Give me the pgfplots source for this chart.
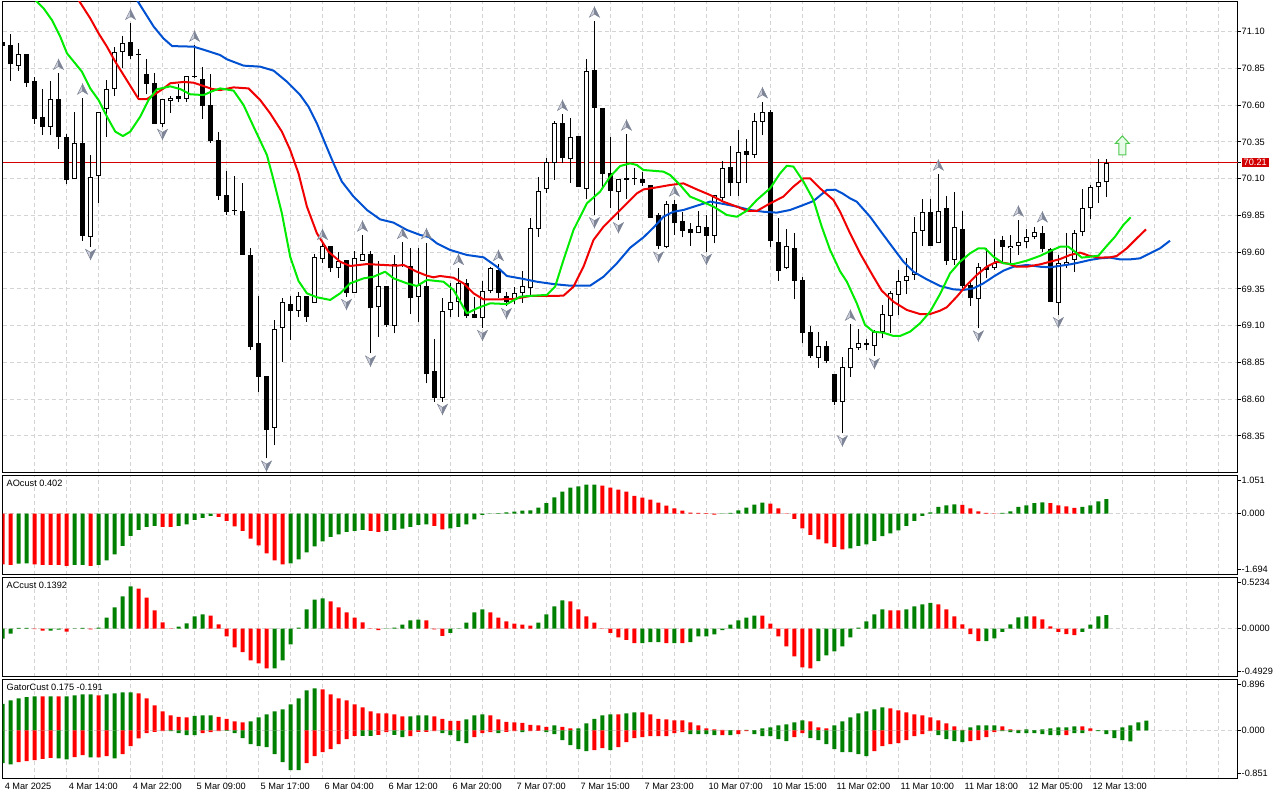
\documentclass[border=0pt]{standalone}
\usepackage{pgfplots}
\usepackage{pgfplotstable}
\pgfplotsset{compat=1.18}
\usepackage{fontspec}
\setmainfont{Liberation Sans}
\newcommand{\mtfont}{\fontsize{9.2}{11}\selectfont}
\definecolor{jaw}{RGB}{0,80,210}
\definecolor{teeth}{RGB}{240,0,0}
\definecolor{lips}{RGB}{0,235,0}
\definecolor{hgreen}{RGB}{0,128,0}
\definecolor{hred}{RGB}{255,0,0}
\definecolor{pricered}{RGB}{210,0,0}
\definecolor{gridc}{RGB}{212,212,212}
\definecolor{buyg}{RGB}{80,200,80}
\definecolor{buyf}{RGB}{232,250,232}
\definecolor{frl}{RGB}{205,208,218}
\definecolor{frd}{RGB}{125,132,150}

\pgfdeclareplotmark{fup}{%
  \pgfsetlinewidth{0.5pt}\pgfsetstrokecolor{frd}%
  \pgfsetfillcolor{frl}%
  \pgfpathmoveto{\pgfqpoint{0pt}{5pt}}\pgfpathlineto{\pgfqpoint{-5pt}{-5pt}}%
  \pgfpathlineto{\pgfqpoint{0pt}{-2pt}}\pgfpathclose\pgfusepath{fill,stroke}%
  \pgfsetfillcolor{frd}%
  \pgfpathmoveto{\pgfqpoint{0pt}{5pt}}\pgfpathlineto{\pgfqpoint{5pt}{-5pt}}%
  \pgfpathlineto{\pgfqpoint{0pt}{-2pt}}\pgfpathclose\pgfusepath{fill,stroke}%
}
\pgfdeclareplotmark{fdown}{%
  \pgfsetlinewidth{0.5pt}\pgfsetstrokecolor{frd}%
  \pgfsetfillcolor{frl}%
  \pgfpathmoveto{\pgfqpoint{0pt}{-5pt}}\pgfpathlineto{\pgfqpoint{-5pt}{5pt}}%
  \pgfpathlineto{\pgfqpoint{0pt}{2pt}}\pgfpathclose\pgfusepath{fill,stroke}%
  \pgfsetfillcolor{frd}%
  \pgfpathmoveto{\pgfqpoint{0pt}{-5pt}}\pgfpathlineto{\pgfqpoint{5pt}{5pt}}%
  \pgfpathlineto{\pgfqpoint{0pt}{2pt}}\pgfpathclose\pgfusepath{fill,stroke}%
}
\pgfdeclareplotmark{buy}{%
  \pgfsetlinewidth{1pt}\pgfsetstrokecolor{buyg}\pgfsetfillcolor{buyf}%
  \pgfpathmoveto{\pgfqpoint{0pt}{9.5pt}}\pgfpathlineto{\pgfqpoint{7pt}{2pt}}%
  \pgfpathlineto{\pgfqpoint{3.5pt}{2pt}}\pgfpathlineto{\pgfqpoint{3.5pt}{-9.5pt}}%
  \pgfpathlineto{\pgfqpoint{-3.5pt}{-9.5pt}}\pgfpathlineto{\pgfqpoint{-3.5pt}{2pt}}%
  \pgfpathlineto{\pgfqpoint{-7pt}{2pt}}\pgfpathclose\pgfusepath{fill,stroke}%
}

\pgfplotstableread{
k o h l c
0 71.032 71.054 70.975 71.005
1 71.009 71.084 70.767 70.878
2 70.869 71.025 70.835 70.948
3 70.948 70.948 70.726 70.749
4 70.764 70.789 70.474 70.508
5 70.519 70.710 70.399 70.454
6 70.454 70.764 70.397 70.642
7 70.642 70.817 70.304 70.381
8 70.383 70.402 70.066 70.089
9 70.095 70.551 70.095 70.340
10 70.343 70.649 69.678 69.712
11 69.705 70.259 69.637 70.109
12 70.116 70.551 69.937 70.551
13 70.572 70.771 70.386 70.708
14 70.708 70.998 70.662 70.964
15 70.959 71.070 70.855 71.021
16 71.027 71.157 70.916 70.934
17 70.941 70.980 70.658 70.941
18 70.810 70.912 70.674 70.746
19 70.751 70.817 70.474 70.474
20 70.474 70.640 70.454 70.640
21 70.626 70.665 70.549 70.646
22 70.660 70.742 70.619 70.644
23 70.644 70.796 70.621 70.796
24 70.792 71.009 70.787 70.792
25 70.776 70.860 70.508 70.597
26 70.601 70.810 70.345 70.356
27 70.363 70.415 69.955 69.984
28 69.989 70.154 69.853 69.875
29 69.882 70.120 69.853 69.882
30 69.882 70.073 69.581 69.581
31 69.581 69.631 68.934 68.957
32 68.984 69.304 68.651 68.753
33 68.758 68.758 68.197 68.390
34 68.406 69.139 68.288 69.075
35 69.086 69.286 68.855 69.259
36 69.247 69.304 69.002 69.202
37 69.202 69.327 69.161 69.302
38 69.302 69.302 69.127 69.161
39 69.256 69.587 69.256 69.565
40 69.553 69.660 69.524 69.642
41 69.642 69.642 69.467 69.490
42 69.495 69.599 69.426 69.542
43 69.547 69.547 69.297 69.324
44 69.324 69.610 69.320 69.558
45 69.542 69.717 69.542 69.587
46 69.587 69.610 68.912 69.218
47 69.225 69.540 69.025 69.370
48 69.370 69.370 69.093 69.105
49 69.098 69.581 69.048 69.517
50 69.508 69.667 69.501 69.508
51 69.508 69.631 69.177 69.286
52 69.297 69.626 69.127 69.377
53 69.370 69.665 68.708 68.769
54 68.792 69.009 68.583 68.606
55 68.606 69.286 68.583 69.202
56 69.207 69.392 69.161 69.263
57 69.263 69.490 69.161 69.392
58 69.392 69.415 69.150 69.166
59 69.177 69.297 69.150 69.154
60 69.150 69.406 69.086 69.338
61 69.338 69.501 69.320 69.490
62 69.479 69.517 69.286 69.320
63 69.304 69.327 69.235 69.259
64 69.275 69.361 69.245 69.320
65 69.320 69.474 69.256 69.370
66 69.354 69.830 69.302 69.767
67 69.755 70.114 69.705 70.018
68 70.027 70.238 70.000 70.216
69 70.209 70.492 70.091 70.476
70 70.476 70.538 70.209 70.238
71 70.231 70.515 70.073 70.386
72 70.390 70.390 70.046 70.046
73 70.027 70.912 69.959 70.832
74 70.839 71.173 69.853 70.583
75 70.578 70.578 70.034 70.129
76 70.136 70.386 69.898 70.018
77 70.007 70.095 69.819 70.095
78 70.107 70.404 69.962 70.091
79 70.095 70.170 70.057 70.095
80 70.095 70.148 70.052 70.073
81 70.057 70.057 69.835 69.835
82 69.853 69.864 69.619 69.644
83 69.637 69.948 69.626 69.928
84 69.928 69.955 69.717 69.796
85 69.812 69.875 69.701 69.746
86 69.758 69.796 69.644 69.728
87 69.728 69.880 69.728 69.778
88 69.769 69.853 69.603 69.712
89 69.712 69.989 69.660 69.989
90 69.966 70.220 69.944 70.170
91 70.177 70.324 69.984 70.068
92 70.073 70.431 69.984 70.279
93 70.288 70.370 70.073 70.261
94 70.261 70.544 70.243 70.492
95 70.488 70.624 70.397 70.556
96 70.556 70.567 69.637 69.678
97 69.667 69.830 69.406 69.474
98 69.490 69.755 69.483 69.642
99 69.626 69.728 69.279 69.406
100 69.411 69.433 68.980 69.052
101 69.059 69.098 68.882 68.894
102 68.882 69.055 68.814 68.962
103 68.962 68.996 68.844 68.860
104 68.771 68.771 68.560 68.583
105 68.583 68.889 68.368 68.817
106 68.810 69.111 68.753 68.946
107 68.946 69.077 68.934 68.980
108 68.980 69.007 68.934 68.966
109 68.964 69.070 68.894 69.059
110 69.055 69.241 69.014 69.179
111 69.166 69.338 69.048 69.320
112 69.309 69.479 69.173 69.406
113 69.406 69.558 69.315 69.438
114 69.445 69.837 69.411 69.735
115 69.746 69.959 69.644 69.875
116 69.871 69.959 69.644 69.644
117 69.660 70.132 69.660 69.882
118 69.898 69.982 69.513 69.542
119 69.547 70.012 69.513 69.769
120 69.755 69.880 69.354 69.370
121 69.377 69.399 69.234 69.286
122 69.279 69.524 69.082 69.497
123 69.497 69.626 69.422 69.479
124 69.490 69.687 69.479 69.524
125 69.683 69.710 69.524 69.637
126 69.626 69.717 69.524 69.644
127 69.644 69.819 69.581 69.667
128 69.667 69.755 69.626 69.701
129 69.701 69.770 69.687 69.735
130 69.728 69.780 69.603 69.619
131 69.619 69.626 69.263 69.263
132 69.256 69.581 69.173 69.524
133 69.519 69.728 69.490 69.535
134 69.547 69.751 69.467 69.728
135 69.735 70.027 69.712 69.898
136 69.898 70.057 69.826 70.041
137 70.041 70.234 69.937 70.075
138 70.075 70.234 69.977 70.209
}\candles

\pgfplotstableread{
x y
16.8 71.315
18.9 71.134
20.1 71.055
21.2 71.002
23.9 70.998
25.5 70.971
27.2 70.941
28.05 70.912
30.13 70.869
32.21 70.862
33.88 70.835
35.55 70.760
37.21 70.669
38.25 70.590
39.3 70.476
40.33 70.340
41.38 70.204
42.42 70.080
43.88 69.978
45.55 69.887
47.21 69.823
48.88 69.801
50.55 69.751
52.21 69.717
53.3 69.703
54.3 69.660
55.96 69.615
58.05 69.581
60.13 69.565
61.8 69.501
63.05 69.438
64.71 69.422
66.8 69.399
68.88 69.383
70.96 69.372
73.46 69.372
75.13 69.433
76.8 69.524
78.46 69.630
80.13 69.701
81.38 69.767
82.63 69.841
83.88 69.875
85.13 69.887
86.8 69.916
88.46 69.944
90.13 69.928
91.8 69.910
93.46 69.887
95.13 69.875
96.8 69.869
98.46 69.887
100.13 69.921
101.38 69.948
103.05 70.023
104.1 70.025
105.0 70.000
105.96 69.966
106.8 69.943
108.46 69.841
110.13 69.717
111.38 69.626
112.63 69.535
113.88 69.467
115.55 69.415
117.21 69.370
118.88 69.347
120.13 69.343
121.38 69.354
122.63 69.388
123.88 69.433
125.13 69.474
126.38 69.501
128.05 69.513
129.71 69.501
130.96 69.497
132.21 69.507
133.46 69.517
134.71 69.531
135.96 69.547
137.21 69.558
138.46 69.563
139.71 69.551
140.96 69.551
142.21 69.558
143.46 69.592
144.71 69.626
145.96 69.678
}\jawline

\pgfplotstableread{
x y
9.5 71.315
10.96 71.191
12.0 71.089
13.05 70.998
14.09 70.896
15.13 70.805
16.17 70.714
17.0 70.642
18.05 70.642
18.88 70.669
20.13 70.714
20.96 70.749
22.63 70.758
23.88 70.753
25.13 70.730
26.2 70.710
27.21 70.703
28.88 70.721
30.75 70.714
32.21 70.635
33.46 70.544
34.92 70.420
35.96 70.295
37.0 70.136
38.05 69.910
39.3 69.728
40.75 69.603
42.21 69.535
43.46 69.506
45.55 69.519
47.63 69.513
49.3 69.508
50.13 69.513
51.8 69.467
53.05 69.440
53.88 69.429
54.71 69.438
56.38 69.426
57.63 69.388
58.88 69.320
60.13 69.279
61.8 69.279
63.88 69.281
65.96 69.302
68.05 69.302
70.13 69.304
71.38 69.365
72.63 69.501
73.88 69.683
75.13 69.773
76.8 69.864
78.05 69.932
79.3 70.000
80.13 70.027
81.8 70.041
83.46 70.057
85.13 70.068
86.8 70.027
88.46 69.989
90.13 69.943
91.8 69.910
93.05 69.882
94.3 69.880
95.96 69.932
97.63 69.978
98.88 70.046
100.13 70.102
100.96 70.102
102.21 70.034
103.88 69.955
104.71 69.875
105.96 69.728
107.21 69.592
108.88 69.433
109.92 69.338
111.38 69.263
113.05 69.207
114.71 69.179
115.96 69.179
117.21 69.202
118.05 69.225
119.3 69.297
120.55 69.377
121.8 69.445
123.05 69.501
124.3 69.535
125.55 69.524
126.8 69.501
128.05 69.501
129.71 69.517
130.96 69.535
132.21 69.553
133.46 69.581
134.71 69.597
135.96 69.574
137.21 69.563
138.46 69.565
139.3 69.574
140.55 69.626
141.8 69.694
142.96 69.755
}\teethline

\pgfplotstableread{
x y
4.09 71.315
5.13 71.259
6.17 71.179
7.21 71.066
8.05 70.953
9.92 70.828
10.96 70.714
12.0 70.635
13.05 70.522
14.09 70.420
15.05 70.390
15.96 70.420
17.21 70.522
18.25 70.635
19.3 70.708
20.96 70.728
22.21 70.710
23.46 70.674
25.13 70.669
26.38 70.699
27.21 70.714
28.88 70.699
30.13 70.601
31.38 70.454
33.05 70.261
33.88 70.091
34.92 69.864
35.96 69.569
37.0 69.404
38.05 69.320
39.3 69.293
40.96 69.275
42.21 69.320
43.46 69.388
45.13 69.422
46.38 69.433
47.83 69.467
48.88 69.422
50.55 69.388
51.8 69.370
53.05 69.411
55.13 69.399
56.38 69.343
58.05 69.184
59.3 69.218
60.96 69.252
63.05 69.247
64.71 69.297
66.38 69.304
68.05 69.309
69.08 69.365
70.13 69.547
71.38 69.751
73.05 69.932
74.71 70.012
75.96 70.114
77.21 70.186
78.46 70.204
79.3 70.193
80.13 70.159
82.63 70.148
83.46 70.125
84.71 70.057
85.96 69.978
87.21 69.950
88.88 69.910
90.55 69.853
91.8 69.841
93.05 69.882
94.3 69.955
95.96 70.034
97.21 70.136
98.05 70.188
98.88 70.182
100.13 70.080
101.38 69.955
102.42 69.773
103.46 69.615
104.71 69.470
105.55 69.400
106.8 69.252
107.83 69.105
108.88 69.059
110.13 69.052
111.38 69.030
112.21 69.030
113.46 69.059
114.71 69.116
115.96 69.195
117.21 69.315
118.46 69.456
119.71 69.535
120.96 69.592
122.0 69.626
122.83 69.626
123.88 69.569
125.13 69.524
126.38 69.519
128.05 69.542
129.71 69.575
130.96 69.607
132.21 69.637
133.25 69.637
134.08 69.603
134.92 69.563
135.96 69.569
137.0 69.576
138.04 69.642
139.08 69.705
140.13 69.785
141.04 69.837
}\lipsline

\pgfplotstableread{
k y
7 70.877
10 70.709
16 71.217
24 71.069
40 69.720
45 69.777
50 69.727
53 69.725
57 69.550
62 69.577
70 70.598
74 71.233
78 70.464
84 70.015
95 70.684
106 69.171
117 70.192
127 69.879
130 69.840
}\fracup

\pgfplotstableread{
k y
11 69.585
20 70.402
33 68.145
43 69.245
46 68.860
55 68.531
60 69.034
63 69.183
74 69.801
77 69.767
82 69.567
88 69.551
105 68.316
109 68.842
122 69.030
132 69.121
}\fracdown

\pgfplotstableread{
k v g
0 -1.405 0
1 -1.423 0
2 -1.386 1
3 -1.377 1
4 -1.405 0
5 -1.423 0
6 -1.423 0
7 -1.423 0
8 -1.451 0
9 -1.423 1
10 -1.423 1
11 -1.451 0
12 -1.423 1
13 -1.294 1
14 -1.128 1
15 -0.896 1
16 -0.619 1
17 -0.453 1
18 -0.370 1
19 -0.342 1
20 -0.370 0
21 -0.370 0
22 -0.342 1
23 -0.296 1
24 -0.176 1
25 -0.120 1
26 -0.065 1
27 -0.092 0
28 -0.203 0
29 -0.351 0
30 -0.481 0
31 -0.693 0
32 -0.878 0
33 -1.100 0
34 -1.294 0
35 -1.405 0
36 -1.377 1
37 -1.266 1
38 -1.072 1
39 -0.906 1
40 -0.767 1
41 -0.647 1
42 -0.573 1
43 -0.508 1
44 -0.481 1
45 -0.453 1
46 -0.481 0
47 -0.508 0
48 -0.481 1
49 -0.453 1
50 -0.416 1
51 -0.370 1
52 -0.314 1
53 -0.296 1
54 -0.342 0
55 -0.434 0
56 -0.407 1
57 -0.370 1
58 -0.296 1
59 -0.157 1
60 -0.037 1
61 -0.010 1
62 0.010 1
63 0.037 1
64 0.055 1
65 0.083 1
66 0.092 1
67 0.166 1
68 0.287 1
69 0.453 1
70 0.610 1
71 0.721 1
72 0.758 1
73 0.804 1
74 0.806 1
75 0.776 0
76 0.721 0
77 0.665 0
78 0.610 0
79 0.490 0
80 0.444 0
81 0.388 0
82 0.305 0
83 0.222 0
84 0.148 0
85 0.083 0
86 0.028 0
87 0.020 0
88 0.010 0
89 -0.028 0
90 -0.010 1
91 0.018 1
92 0.092 1
93 0.166 1
94 0.250 1
95 0.305 1
96 0.277 0
97 0.148 0
98 -0.009 0
99 -0.148 0
100 -0.407 0
101 -0.592 0
102 -0.712 0
103 -0.823 0
104 -0.924 0
105 -0.989 0
106 -0.961 1
107 -0.896 1
108 -0.850 1
109 -0.758 1
110 -0.628 1
111 -0.545 1
112 -0.462 1
113 -0.342 1
114 -0.203 1
115 -0.065 1
116 0.037 1
117 0.185 1
118 0.231 1
119 0.259 1
120 0.240 0
121 0.148 0
122 0.065 0
123 0.018 0
124 -0.005 0
125 0.018 1
126 0.065 1
127 0.185 1
128 0.231 1
129 0.287 1
130 0.314 1
131 0.287 0
132 0.231 0
133 0.203 0
134 0.157 0
135 0.185 1
136 0.231 1
137 0.342 1
138 0.402 1
}\aodata

\pgfplotstableread{
k v g
0 -0.103 1
1 -0.051 1
2 0.007 1
3 0.007 1
4 -0.005 0
5 -0.021 0
6 -0.021 1
7 -0.010 1
8 -0.031 0
9 0.003 1
10 0.007 1
11 -0.007 0
12 0.010 1
13 0.113 1
14 0.219 1
15 0.332 1
16 0.435 1
17 0.411 0
18 0.318 0
19 0.188 0
20 0.065 0
21 -0.003 0
22 0.021 1
23 0.055 1
24 0.127 1
25 0.147 1
26 0.133 0
27 0.044 0
28 -0.079 0
29 -0.192 0
30 -0.240 0
31 -0.325 0
32 -0.356 0
33 -0.407 0
34 -0.407 1
35 -0.325 1
36 -0.161 1
37 0.010 1
38 0.198 1
39 0.298 1
40 0.311 1
41 0.281 0
42 0.219 0
43 0.168 0
44 0.113 0
45 0.065 0
46 -0.003 0
47 -0.014 0
48 -0.003 1
49 0.010 1
50 0.041 1
51 0.086 1
52 0.092 1
53 0.086 0
54 -0.007 0
55 -0.075 0
56 -0.044 1
57 -0.003 1
58 0.062 1
59 0.168 1
60 0.198 1
61 0.168 0
62 0.113 0
63 0.075 0
64 0.051 0
65 0.041 0
66 0.031 0
67 0.062 1
68 0.147 1
69 0.229 1
70 0.291 1
71 0.281 0
72 0.198 0
73 0.127 0
74 0.062 0
75 -0.003 0
76 -0.044 0
77 -0.089 0
78 -0.116 0
79 -0.147 0
80 -0.147 1
81 -0.137 1
82 -0.137 1
83 -0.147 0
84 -0.147 1
85 -0.147 0
86 -0.137 1
87 -0.079 1
88 -0.079 1
89 -0.058 1
90 -0.014 1
91 0.041 1
92 0.086 1
93 0.113 1
94 0.133 1
95 0.133 0
96 0.051 0
97 -0.079 0
98 -0.181 0
99 -0.284 0
100 -0.397 0
101 -0.407 0
102 -0.332 1
103 -0.274 1
104 -0.233 1
105 -0.181 1
106 -0.089 1
107 0.010 1
108 0.075 1
109 0.147 1
110 0.198 1
111 0.188 0
112 0.188 0
113 0.198 1
114 0.229 1
115 0.250 1
116 0.264 1
117 0.250 0
118 0.198 0
119 0.127 0
120 0.044 0
121 -0.055 0
122 -0.127 0
123 -0.127 1
124 -0.099 1
125 -0.034 1
126 0.044 1
127 0.116 1
128 0.127 1
129 0.127 0
130 0.096 0
131 0.024 0
132 -0.034 0
133 -0.055 0
134 -0.065 0
135 -0.034 1
136 0.041 1
137 0.127 1
138 0.139 1
}\acdata

\pgfplotstableread{
k up gu lo gl
0 0.471 1 -0.576 1
1 0.529 1 -0.600 1
2 0.565 1 -0.559 0
3 0.588 1 -0.541 0
4 0.600 1 -0.524 0
5 0.600 0 -0.500 0
6 0.600 1 -0.482 0
7 0.600 0 -0.494 1
8 0.600 1 -0.512 1
9 0.618 1 -0.471 0
10 0.635 1 -0.435 0
11 0.635 1 -0.476 1
12 0.618 0 -0.476 0
13 0.635 1 -0.453 0
14 0.653 1 -0.494 1
15 0.671 1 -0.418 0
16 0.671 1 -0.276 0
17 0.653 0 -0.141 0
18 0.565 0 -0.047 0
19 0.441 0 -0.024 0
20 0.335 0 -0.012 0
21 0.265 0 -0.012 1
22 0.241 0 -0.047 1
23 0.229 0 -0.082 1
24 0.259 1 -0.082 1
25 0.265 1 -0.047 0
26 0.265 1 -0.029 0
27 0.241 0 -0.012 0
28 0.206 0 -0.006 1
29 0.159 0 -0.047 1
30 0.141 0 -0.135 1
31 0.159 1 -0.241 1
32 0.229 1 -0.276 1
33 0.282 1 -0.294 1
34 0.335 1 -0.418 1
35 0.371 1 -0.559 1
36 0.459 1 -0.700 1
37 0.565 1 -0.700 1
38 0.706 1 -0.576 0
39 0.741 1 -0.453 0
40 0.724 0 -0.382 0
41 0.635 0 -0.329 0
42 0.565 0 -0.241 0
43 0.529 0 -0.153 0
44 0.459 0 -0.094 0
45 0.406 0 -0.094 1
46 0.335 0 -0.094 1
47 0.300 0 -0.076 0
48 0.300 0 -0.029 0
49 0.282 0 -0.076 1
50 0.247 0 -0.118 1
51 0.247 1 -0.100 0
52 0.265 1 -0.024 0
53 0.265 1 -0.024 0
54 0.247 0 -0.012 0
55 0.206 0 -0.047 1
56 0.171 0 -0.082 1
57 0.171 0 -0.188 1
58 0.194 1 -0.224 1
59 0.265 1 -0.118 0
60 0.282 1 -0.047 0
61 0.265 0 -0.029 0
62 0.194 0 -0.047 1
63 0.153 0 -0.024 0
64 0.141 0 -0.012 0
65 0.135 0 -0.029 1
66 0.100 0 -0.012 0
67 0.088 0 -0.006 0
68 0.065 0 -0.029 1
69 0.088 1 -0.065 1
70 0.065 0 -0.171 1
71 0.035 0 -0.259 1
72 0.035 1 -0.329 1
73 0.124 1 -0.365 1
74 0.206 1 -0.347 0
75 0.265 1 -0.312 0
76 0.282 1 -0.347 1
77 0.282 0 -0.294 0
78 0.300 1 -0.206 0
79 0.318 1 -0.135 0
80 0.318 0 -0.118 0
81 0.282 0 -0.100 0
82 0.206 0 -0.100 0
83 0.194 0 -0.100 0
84 0.176 0 -0.047 0
85 0.176 0 -0.029 0
86 0.141 0 -0.065 1
87 0.088 0 -0.065 1
88 0.035 0 -0.065 1
89 0.018 0 -0.082 1
90 0.012 0 -0.082 0
91 0.004 1 -0.082 1
92 0.004 0 -0.065 0
93 0.012 1 -0.012 0
94 0.004 1 -0.065 1
95 0.035 1 -0.100 1
96 0.053 1 -0.100 1
97 0.088 1 -0.153 1
98 0.106 1 -0.188 1
99 0.141 1 -0.118 0
100 0.176 1 -0.047 0
101 0.159 0 -0.135 1
102 0.053 0 -0.171 1
103 0.035 0 -0.241 1
104 0.088 1 -0.329 1
105 0.159 1 -0.382 1
106 0.229 1 -0.382 1
107 0.300 1 -0.418 1
108 0.335 1 -0.453 1
109 0.371 1 -0.365 0
110 0.406 1 -0.276 0
111 0.388 0 -0.241 0
112 0.353 0 -0.224 0
113 0.318 0 -0.171 0
114 0.282 0 -0.100 0
115 0.265 0 -0.065 0
116 0.229 0 -0.012 0
117 0.176 0 -0.082 1
118 0.124 0 -0.153 1
119 0.071 0 -0.188 1
120 0.012 0 -0.206 1
121 0.053 1 -0.188 0
122 0.088 1 -0.171 0
123 0.088 1 -0.118 0
124 0.088 1 -0.029 0
125 0.071 0 -0.012 1
126 0.018 0 -0.029 1
127 0.012 0 -0.047 1
128 0.018 1 -0.047 1
129 0.004 1 -0.047 1
130 0.018 1 -0.065 1
131 0.035 1 -0.082 1
132 0.053 1 -0.082 1
133 0.053 1 -0.082 0
134 0.071 1 -0.047 1
135 0.071 0 -0.047 1
136 0.035 0 -0.012 0
137 0.004 1 -0.012 1
138 0.004 1 -0.065 1
139 0.004 1 -0.135 1
140 0.053 1 -0.171 1
141 0.088 1 -0.191 1
142 0.141 1 0 1
143 0.175 1 0 1
}\gatordata

\pgfplotsset{
  mtaxis/.style={
    scale only axis, width=1235pt, anchor=south west,
    xmin=-0.01, xmax=154.4,
    axis line style={black, line width=1pt},
    grid style={gridc, dash pattern=on 4pt off 3pt, line width=1pt},
    xmajorgrids, xtick={0,4,...,152}, xticklabels={},
    xtick style={draw=none},
    ytick pos=right, yticklabel pos=right, tick align=outside,
    major tick length=3pt,
    ytick style={black, line width=1pt},
    tick label style={font=\mtfont},
    yticklabel style={anchor=west, inner sep=0pt, xshift=1pt},
    clip=true,
  },
  hbar/.style={ybar, bar width=4pt, draw=none, fill=#1},
  wick/.style n args={2}{draw=none, no marks,
    error bars/.cd, y dir=plus, y explicit, error mark=none,
    error mark options={draw=none, fill=none, mark size=0pt},
    error bar style={line width=#1, line cap=butt, draw=#2, solid}},
}

\begin{document}
\begin{tikzpicture}
\useasboundingbox (0pt,0pt) rectangle (1280pt,800pt);

% ---------------- main price panel ----------------
\begin{axis}[mtaxis, at={(2.5pt,327.3pt)}, height=470.7pt,
  ymin=68.0998, ymax=71.302,
  ytick={68.35,68.60,68.85,69.10,69.35,69.60,69.85,70.10,70.35,70.60,70.85,71.10},
  yticklabels={68.35,68.60,68.85,69.10,69.35,69.60,69.85,70.10,70.35,70.60,70.85,71.10},
  ymajorgrids,
  extra y ticks={70.21}, extra y tick labels={70.21},
  extra y tick style={grid=major, major grid style={pricered, solid, line width=1pt},
     yticklabel style={fill=pricered, text=white, inner xsep=2pt, inner ysep=1.2pt, xshift=0pt}},
]
\addplot[wick={1pt}{black}] table[x=k, y=l, y error expr=\thisrow{h}-\thisrow{l}] {\candles};
\addplot[wick={5pt}{black}] table[x=k, y expr={min(\thisrow{o},\thisrow{c})}, y error expr={max(abs(\thisrow{c}-\thisrow{o}),0.0068)}] {\candles};
\addplot[wick={3pt}{white}] table[x=k, y expr={\thisrow{c}-\thisrow{o}>0.0137 ? \thisrow{o}+0.0068 : nan}, y error expr={\thisrow{c}-\thisrow{o}-0.0136}] {\candles};
\addplot[jaw, line width=2pt, no marks, line join=round] table[x=x, y=y] {\jawline};
\addplot[teeth, line width=2pt, no marks, line join=round] table[x=x, y=y] {\teethline};
\addplot[lips, line width=2pt, no marks, line join=round] table[x=x, y=y] {\lipsline};
\addplot[only marks, mark=fup] table[x=k, y=y] {\fracup};
\addplot[only marks, mark=fdown] table[x=k, y=y] {\fracdown};
\addplot[only marks, mark=buy] coordinates {(140,70.326)};
\end{axis}

% ---------------- AO panel ----------------
\begin{axis}[mtaxis, at={(2.5pt,225.3pt)}, height=99pt,
  ymin=-1.694, ymax=1.051,
  ytick={0}, yticklabels={0.000}, ymajorgrids,
  extra y ticks={0.912,-1.555}, extra y tick labels={1.051,-1.694},
  extra y tick style={grid=none},
]
\addplot[hbar=hgreen] table[x=k, y expr={\thisrow{g}>0.5 ? \thisrow{v} : nan}] {\aodata};
\addplot[hbar=hred] table[x=k, y expr={\thisrow{g}<0.5 ? \thisrow{v} : nan}] {\aodata};
\node[anchor=north west, inner sep=0pt, font=\mtfont] at (rel axis cs:0,1) [xshift=4pt, yshift=-4.5pt] {AOcust 0.402};
\end{axis}

% ---------------- AC panel ----------------
\begin{axis}[mtaxis, at={(2.5pt,123.3pt)}, height=99pt,
  ymin=-0.4929, ymax=0.5234,
  ytick={0}, yticklabels={0.0000}, ymajorgrids,
  extra y ticks={0.4721,-0.4416}, extra y tick labels={0.5234,-0.4929},
  extra y tick style={grid=none},
]
\addplot[hbar=hgreen] table[x=k, y expr={\thisrow{g}>0.5 ? \thisrow{v} : nan}] {\acdata};
\addplot[hbar=hred] table[x=k, y expr={\thisrow{g}<0.5 ? \thisrow{v} : nan}] {\acdata};
\node[anchor=north west, inner sep=0pt, font=\mtfont] at (rel axis cs:0,1) [xshift=4pt, yshift=-4.5pt] {ACcust 0.1392};
\end{axis}

% ---------------- Gator panel ----------------
\begin{axis}[mtaxis, at={(2.5pt,21.3pt)}, height=99pt,
  ymin=-0.851, ymax=0.896,
  ytick={0}, yticklabels={0.000}, ymajorgrids,
  extra y ticks={0.8078,-0.7628}, extra y tick labels={0.896,-0.851},
  extra y tick style={grid=none},
  xtick={0,8,...,136},
  xticklabels={4 Mar 2025,4 Mar 14:00,4 Mar 22:00,5 Mar 09:00,5 Mar 17:00,6 Mar 04:00,6 Mar 12:00,6 Mar 20:00,7 Mar 07:00,7 Mar 15:00,7 Mar 23:00,10 Mar 07:00,10 Mar 15:00,11 Mar 02:00,11 Mar 10:00,11 Mar 18:00,12 Mar 05:00,12 Mar 13:00},
  minor xtick={4,12,...,148,144,152},
  xminorgrids, minor x tick style={draw=none},
  xtick pos=left, xticklabel pos=left,
  xtick style={black, line width=1pt},
  xticklabel style={anchor=north west, inner sep=0pt, xshift=2pt, yshift=-1.5pt},
]
\addplot[hbar=hgreen] table[x=k, y expr={\thisrow{gu}>0.5 ? \thisrow{up} : nan}] {\gatordata};
\addplot[hbar=hred] table[x=k, y expr={\thisrow{gu}<0.5 ? \thisrow{up} : nan}] {\gatordata};
\addplot[hbar=hgreen] table[x=k, y expr={\thisrow{gl}>0.5 ? \thisrow{lo} : nan}] {\gatordata};
\addplot[hbar=hred] table[x=k, y expr={\thisrow{gl}<0.5 ? \thisrow{lo} : nan}] {\gatordata};
\node[anchor=north west, inner sep=0pt, font=\mtfont] at (rel axis cs:0,1) [xshift=4pt, yshift=-4.5pt] {GatorCust 0.175 -0.191};
\end{axis}
\end{tikzpicture}
\end{document}
